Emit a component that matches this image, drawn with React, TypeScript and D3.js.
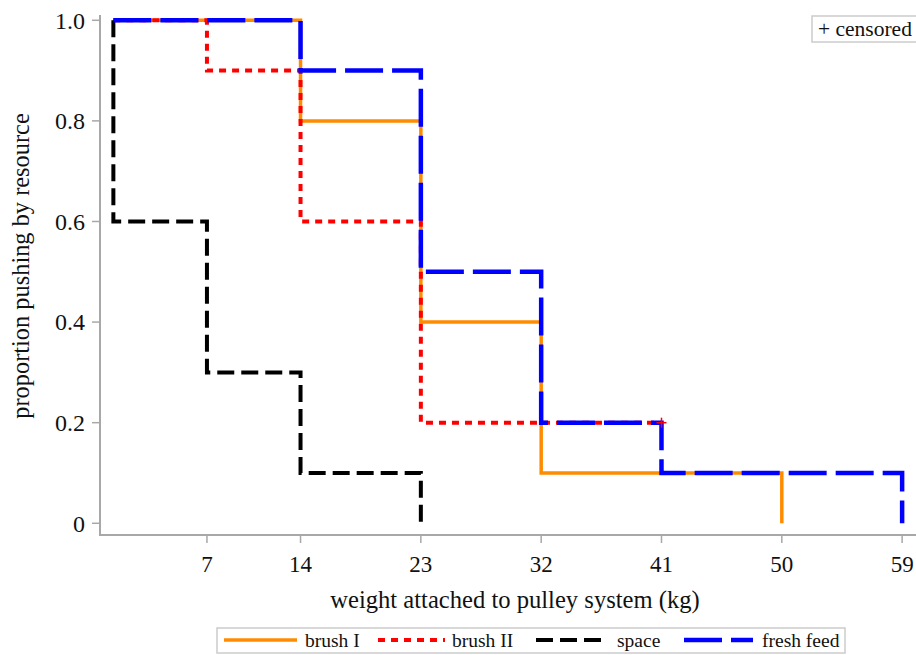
import React from 'react';
import * as d3 from 'd3';

// Kaplan-Meier style step curves: weight (kg) at each step, and the proportion from there on
const brushIWeights = [0, 14, 23, 32, 50];
const brushIProps = [1, 0.8, 0.4, 0.1, 0];
const brushIIWeights = [0, 7, 14, 23, 41];
const brushIIProps = [1, 0.9, 0.6, 0.2, 0.2];
const spaceWeights = [0, 0, 7, 14, 23];
const spaceProps = [1, 0.6, 0.3, 0.1, 0];
const freshWeights = [0, 14, 23, 32, 41, 59];
const freshProps = [1, 0.9, 0.5, 0.2, 0.1, 0];

// censored observation (brush II)
const censoredPoints = [{ w: 41, p: 0.2 }];

const xTicks = [7, 14, 23, 32, 41, 50, 59];
const yTicks = [0, 0.2, 0.4, 0.6, 0.8, 1.0];
const seriesNames = ["brush I", "brush II", "space", "fresh feed"];

const FONT = "'Liberation Serif', 'Times New Roman', serif";
const AXIS = "#a8a8a8";

export default function App() {
  const width = 916;
  const height = 655;

  const x = d3.scaleLinear().domain([-1, 60]).range([100, 915.5]);
  const y = d3.scaleLinear().domain([-0.0233, 1.0105]).range([535, 15]);

  const line = d3.line<[number, number]>()
    .x(d => x(d[0]))
    .y(d => y(d[1]))
    .curve(d3.curveStepAfter);

  const zip = (ws: number[], ps: number[]) => ws.map((w, i) => [w, ps[i]] as [number, number]);

  const series = [
    { name: seriesNames[0], pts: zip(brushIWeights, brushIProps), color: "#ff8c00", width: 3.5, dash: "none" },
    { name: seriesNames[1], pts: zip(brushIIWeights, brushIIProps), color: "#ff0000", width: 4, dash: "7 6" },
    { name: seriesNames[2], pts: zip(spaceWeights, spaceProps), color: "#000000", width: 4, dash: "17 7" },
    { name: seriesNames[3], pts: zip(freshWeights, freshProps), color: "#0000ff", width: 4.5, dash: "38 9" },
  ];

  // legend layout
  const legendItems = [
    { sx: 224, ex: 297, tx: 305 },
    { sx: 378, ex: 445, tx: 452 },
    { sx: 536, ex: 603, tx: 617 },
    { sx: 684, ex: 753, tx: 762 },
  ];

  return (
    <svg width={width} height={height} style={{ position: "absolute", left: 0, top: 0, background: "#fff" }}
      fontFamily={FONT}>
      {/* axes */}
      <line x1={100} x2={100} y1={15} y2={535} stroke={AXIS} strokeWidth={2} />
      <line x1={99} x2={916} y1={535} y2={535} stroke={AXIS} strokeWidth={2} />
      {yTicks.map(t => (
        <g key={t}>
          <line x1={92} x2={100} y1={y(t)} y2={y(t)} stroke={AXIS} strokeWidth={1.5} />
          <text x={85} y={y(t)} dy="0.35em" textAnchor="end" fontSize={24} fill="#111">
            {t === 0 ? "0" : t.toFixed(1)}
          </text>
        </g>
      ))}
      {xTicks.map(t => (
        <g key={t}>
          <line x1={x(t)} x2={x(t)} y1={535} y2={543} stroke={AXIS} strokeWidth={1.5} />
          <text x={x(t)} y={572} textAnchor="middle" fontSize={23} fill="#111">{t}</text>
        </g>
      ))}
      <text x={515} y={608} textAnchor="middle" fontSize={24.6} fill="#111">
        weight attached to pulley system (kg)
      </text>
      <text transform={`translate(29,266) rotate(-90)`} textAnchor="middle" fontSize={24.4} fill="#111">
        proportion pushing by resource
      </text>

      {/* curves */}
      {series.map(s => (
        <path key={s.name} d={line(s.pts) || ""} fill="none" stroke={s.color}
          strokeWidth={s.width} strokeDasharray={s.dash} />
      ))}
      {censoredPoints.map((c, i) => (
        <g key={i} stroke="#ff0000" strokeWidth={1.5}>
          <line x1={x(c.w) - 5} x2={x(c.w) + 5} y1={y(c.p)} y2={y(c.p)} />
          <line x1={x(c.w)} x2={x(c.w)} y1={y(c.p) - 5} y2={y(c.p) + 5} />
        </g>
      ))}

      {/* censored note */}
      <rect x={812} y={16} width={110} height={26} fill="#fff" stroke="#cccccc" strokeWidth={1.5} />
      <text x={818} y={35.5} fontSize={21.5} fill="#111">+ censored</text>

      {/* legend */}
      <rect x={217} y={628} width={628} height={25} fill="#fff" stroke="#cccccc" strokeWidth={1.5} />
      {series.map((s, i) => (
        <g key={s.name}>
          <line x1={legendItems[i].sx} x2={legendItems[i].ex} y1={640} y2={640}
            stroke={s.color} strokeWidth={s.width} strokeDasharray={s.dash} />
          <text x={legendItems[i].tx} y={646.5} fontSize={19.5} fill="#111">{s.name}</text>
        </g>
      ))}
    </svg>
  );
}
